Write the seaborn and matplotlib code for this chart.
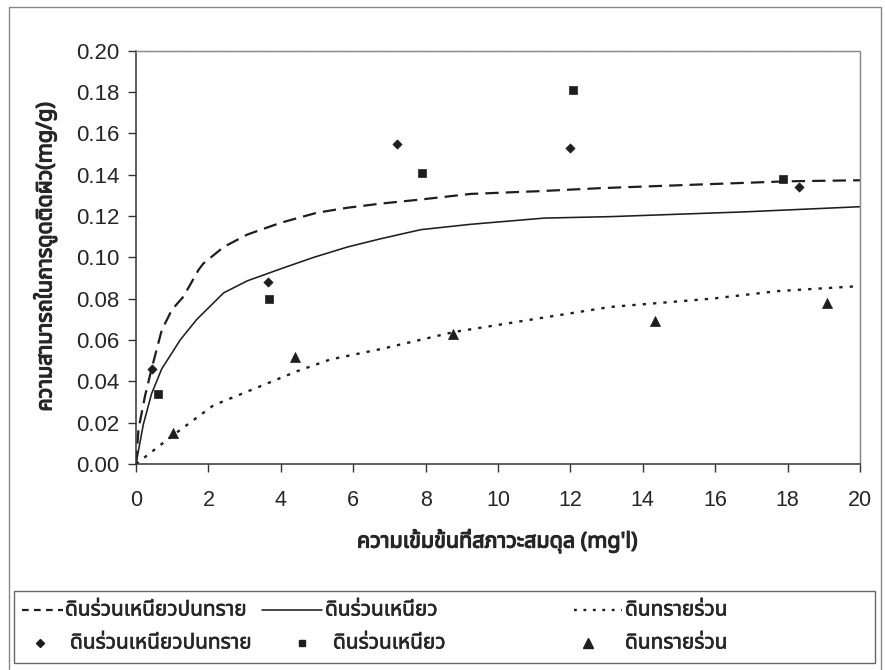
import matplotlib
matplotlib.use("Agg")
import matplotlib.pyplot as plt
from matplotlib import font_manager
import matplotlib.patheffects as pe
from matplotlib.lines import Line2D
from matplotlib.patches import Rectangle
from matplotlib.ticker import FormatStrFormatter
import pandas as pd
import seaborn as sns

# ---------------- data ----------------
soil_names = ["ดินร่วนเหนียวปนทราย", "ดินร่วนเหนียว", "ดินทรายร่วน"]

# measured equilibrium points (Ce in mg/l, qe in mg/g)
ce_clay_sand = [0.43, 3.66, 7.22, 12.00, 18.32]
qe_clay_sand = [0.046, 0.088, 0.155, 0.153, 0.134]
ce_clay = [0.60, 3.68, 7.90, 12.06, 17.86]
qe_clay = [0.034, 0.080, 0.141, 0.181, 0.138]
ce_sand = [1.03, 4.40, 8.77, 14.33, 19.10]
qe_sand = [0.015, 0.052, 0.063, 0.069, 0.078]

# isotherm model curves
curve_x_clay_sand = [0, 0.07, 0.25, 0.43, 0.71, 0.99, 1.31, 1.73, 1.86, 2.42, 3.07,
                     3.99, 5.00, 5.84, 6.76, 7.87, 9.25, 11.10, 12.85, 16.10, 18.00, 20.00]
curve_y_clay_sand = [0, 0.017, 0.033, 0.046, 0.0647, 0.0746, 0.081, 0.094, 0.097, 0.105, 0.111,
                     0.1167, 0.1216, 0.124, 0.126, 0.128, 0.1307, 0.132, 0.1335, 0.1356, 0.1368, 0.1373]
curve_x_clay = [0, 0.20, 0.43, 0.71, 1.22, 1.68, 2.42, 3.07, 3.99, 4.91, 5.84, 6.76,
                7.87, 9.25, 11.28, 13.10, 16.80, 20.00]
curve_y_clay = [0, 0.019, 0.034, 0.046, 0.0600, 0.0700, 0.0828, 0.0886, 0.0944, 0.100, 0.105, 0.109,
                0.1134, 0.116, 0.119, 0.1197, 0.122, 0.1245]
curve_x_sand = [0, 1.03, 2.14, 3.53, 4.45, 5.37, 6.76, 8.79, 11.10, 13.10, 15.90, 17.75, 20.00]
curve_y_sand = [0, 0.014, 0.0284, 0.0383, 0.0449, 0.0506, 0.0556, 0.0639, 0.0704, 0.076, 0.080, 0.0837, 0.0861]

x_ticks = [0, 2, 4, 6, 8, 10, 12, 14, 16, 18, 20]
y_ticks = [0.00, 0.02, 0.04, 0.06, 0.08, 0.10, 0.12, 0.14, 0.16, 0.18, 0.20]
x_label = "ความเข้มข้นที่สภาวะสมดุล (mg'l)"
y_label = "ความสามารถในการดูดติดผิว(mg/g)"


# ---------------- fonts ----------------
def find_thai_family():
    try:
        from fontTools.ttLib import TTFont
    except Exception:
        return None
    found = []
    for f in font_manager.fontManager.ttflist:
        try:
            tt = TTFont(f.fname, fontNumber=0, lazy=True)
            cmap = tt.getBestCmap()
            if cmap and 0x0E14 in cmap and 0x0E48 in cmap:
                found.append(f.name)
        except Exception:
            continue
    if not found:
        return None
    for pref in ["Noto Sans Thai", "Noto Sans Thai UI", "Loma", "Garuda", "Tlwg Typist",
                 "Sarabun", "Kinnari", "Norasi", "DejaVu Sans"]:
        if pref in found:
            return pref
    return sorted(found)[0]


sns.set_theme(style="white")
thai = find_thai_family()
latin = "Liberation Sans"
fam = [thai, latin, "DejaVu Sans"] if thai else [latin, "DejaVu Sans"]
plt.rcParams["font.family"] = fam

W, H = 885, 670
fig = plt.figure(figsize=(W / 100, H / 100), dpi=100)
fig.patch.set_facecolor("white")


def fx(px):
    return px / W


def fy(py):
    return 1 - py / H


ax = fig.add_axes([fx(136), fy(464), fx(860) - fx(136), fy(50.7) - fy(464)])
ax.set_facecolor("white")

ink = "#1e1e1e"
text_ink = "#262626"
heavy = [pe.withStroke(linewidth=0.9, foreground=text_ink)]
medium = [pe.withStroke(linewidth=0.45, foreground=text_ink)]

line_styles = [
    (curve_x_clay_sand, curve_y_clay_sand, (0, (6.0, 3.2)), 1.6),
    (curve_x_clay, curve_y_clay, "-", 1.15),
    (curve_x_sand, curve_y_sand, (0, (1.4, 3.0)), 1.7),
]
for name, (cx, cy, ls, lw) in zip(soil_names, line_styles):
    df = pd.DataFrame({"ce": cx, "qe": cy})
    sns.lineplot(data=df, x="ce", y="qe", ax=ax, color=ink, linestyle=ls,
                 linewidth=lw, sort=False, estimator=None, legend=False)

point_sets = [
    (ce_clay_sand, qe_clay_sand, "D", 22),
    (ce_clay, qe_clay, "s", 26),
    (ce_sand, qe_sand, "^", 52),
]
for name, (px_, py_, mk, s) in zip(soil_names, point_sets):
    df = pd.DataFrame({"ce": px_, "qe": py_})
    sns.scatterplot(data=df, x="ce", y="qe", ax=ax, marker=mk, s=s, color=ink,
                    edgecolor=ink, linewidth=0.5, legend=False, zorder=5)

ax.set_xlim(0, 20)
ax.set_ylim(0, 0.20)
ax.set_xticks(x_ticks)
ax.set_yticks(y_ticks)
ax.yaxis.set_major_formatter(FormatStrFormatter("%.2f"))
ax.tick_params(axis="both", direction="out", length=6, width=1.0, color="#333333",
               labelcolor=text_ink, bottom=True, left=True)
ax.tick_params(axis="y", labelsize=16, pad=6)
ax.tick_params(axis="x", labelsize=15.5, pad=13)
for lab in ax.get_xticklabels() + ax.get_yticklabels():
    lab.set_family([latin, "DejaVu Sans"])

for side in ["left", "bottom"]:
    ax.spines[side].set_color("#333333")
    ax.spines[side].set_linewidth(1.1)
for side in ["top", "right"]:
    ax.spines[side].set_color("#8a8a8a")
    ax.spines[side].set_linewidth(1.0)
    ax.spines[side].set_linestyle((0, (1.0, 0.6)))

ax.set_xlabel("")
ax.set_ylabel("")
fig.text(fx(497), fy(541), x_label, ha="center", va="center", fontsize=15.5,
         fontweight="bold", color=text_ink, family=fam, path_effects=heavy)
fig.text(fx(45), fy(257), y_label, ha="center", va="center", rotation=90, fontsize=15.5,
         fontweight="bold", color=text_ink, family=fam, path_effects=heavy)

# chart border and legend box
fig.add_artist(Rectangle((fx(9), fy(700)), fx(881) - fx(9), fy(7) - fy(700),
                         transform=fig.transFigure, fill=False, edgecolor="#888888",
                         linewidth=1.0))
fig.add_artist(Rectangle((fx(14), fy(663)), fx(875) - fx(14), fy(591) - fy(663),
                         transform=fig.transFigure, fill=False, edgecolor="#666666",
                         linewidth=1.0))

# legend keys and labels
row1, row2 = 610, 643
line_keys = [((22, 63), (0, (3.0, 2.4)), 1.6, 65),
             ((262, 322), "-", 1.15, 325),
             ((574, 622), (0, (1.2, 2.8)), 1.7, 625)]
for name, ((x0, x1), ls, lw, tx) in zip(soil_names, line_keys):
    fig.add_artist(Line2D([fx(x0), fx(x1)], [fy(row1), fy(row1)], transform=fig.transFigure,
                          color=ink, linestyle=ls, linewidth=lw))
    fig.text(fx(tx), fy(row1), name, ha="left", va="center", fontsize=15, color=text_ink,
             family=fam, path_effects=medium)

marker_keys = [(40, "D", 4.0, 70), (302, "s", 4.6, 333), (588, "^", 6.5, 625)]
for name, (mx, mk, ms, tx) in zip(soil_names, marker_keys):
    fig.add_artist(Line2D([fx(mx)], [fy(row2)], transform=fig.transFigure, marker=mk,
                          markersize=ms, color=ink, linestyle="none"))
    fig.text(fx(tx), fy(row2), name, ha="left", va="center", fontsize=15, color=text_ink,
             family=fam, path_effects=medium)

fig.savefig("out.png", dpi=100, facecolor="white")
